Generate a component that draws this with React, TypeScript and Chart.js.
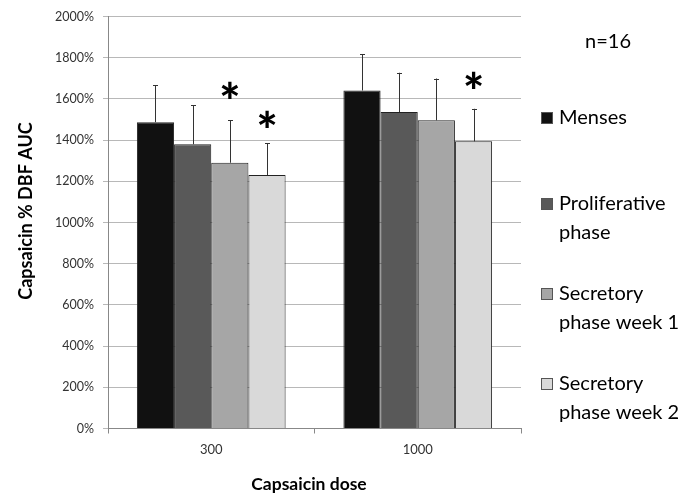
import React, { useEffect, useRef } from "react";
import { Chart, registerables } from "chart.js";

Chart.register(...registerables);

const categories = ["300", "1000"];
const seriesNames = ["Menses", "Proliferative phase", "Secretory phase week 1", "Secretory phase week 2"];
const legendLines = [["Menses"], ["Proliferative", "phase"], ["Secretory", "phase week 1"], ["Secretory", "phase week 2"]];
const menses = [1487, 1641];
const proliferative = [1380, 1536];
const secretory1 = [1290, 1496];
const secretory2 = [1230, 1394];
const mensesErr = [179, 177];
const proliferativeErr = [188, 191];
const secretory1Err = [206, 203];
const secretory2Err = [154, 158];
// asterisk positions (data units) per series, per category
const mensesStar: (number | null)[] = [null, null];
const proliferativeStar: (number | null)[] = [null, null];
const secretory1Star: (number | null)[] = [1642, null];
const secretory2Star: (number | null)[] = [1502, 1690];
const yTicks = [0, 200, 400, 600, 800, 1000, 1200, 1400, 1600, 1800, 2000];
const nLabel = "n=16";
const yTitle = "Capsaicin % DBF AUC";
const xTitle = "Capsaicin dose";

const colors = ["#111111", "#595959", "#a6a6a6", "#d9d9d9"];
const FONT = "Lato, 'Open Sans', sans-serif";

export default function App() {
  const ref = useRef<HTMLCanvasElement | null>(null);
  useEffect(() => {
    document.body.style.margin = "0";
    const values = [menses, proliferative, secretory1, secretory2];
    const errs = [mensesErr, proliferativeErr, secretory1Err, secretory2Err];
    const stars = [mensesStar, proliferativeStar, secretory1Star, secretory2Star];

    const overlay = {
      id: "overlay",
      afterDatasetsDraw(chart: any) {
        const ctx = chart.ctx;
        const ys = chart.scales.y;
        ctx.save();
        values.forEach((_, di) => {
          const meta = chart.getDatasetMeta(di);
          meta.data.forEach((bar: any, i: number) => {
            const top = ys.getPixelForValue(values[di][i] + errs[di][i]);
            const x = Math.round(bar.x) + 0.5;
            ctx.strokeStyle = "#333333";
            ctx.lineWidth = 1;
            ctx.beginPath();
            ctx.moveTo(x, bar.y);
            ctx.lineTo(x, top);
            ctx.moveTo(x - 2.5, Math.round(top) + 0.5);
            ctx.lineTo(x + 2.5, Math.round(top) + 0.5);
            ctx.stroke();
            const s = stars[di][i];
            if (s != null) {
              const sy = ys.getPixelForValue(s);
              ctx.fillStyle = "#000";
              ctx.font = `900 50px ${FONT}`;
              ctx.textAlign = "center";
              ctx.textBaseline = "alphabetic";
              const m = ctx.measureText("*");
              const off = m.actualBoundingBoxAscent - (m.actualBoundingBoxAscent + m.actualBoundingBoxDescent) / 2;
              ctx.fillText("*", bar.x, sy + off);
            }
          });
        });
        ctx.restore();
      },
      afterDraw(chart: any) {
        const ctx = chart.ctx;
        ctx.save();
        ctx.fillStyle = "#000";
        ctx.font = `bold 18px ${FONT}`;
        ctx.textAlign = "center";
        ctx.textBaseline = "middle";
        ctx.translate(26, 211);
        ctx.rotate(-Math.PI / 2);
        ctx.fillText(yTitle, 0, 0);
        ctx.restore();
        ctx.save();
        ctx.fillStyle = "#000";
        ctx.font = `bold 17.5px ${FONT}`;
        ctx.textAlign = "center";
        ctx.textBaseline = "middle";
        ctx.fillText(xTitle, 309, 484);
        ctx.font = `20px ${FONT}`;
        ctx.fillText(nLabel, 608, 42);
        const firstY = [118, 204, 294, 384];
        ctx.textAlign = "left";
        legendLines.forEach((lines, i) => {
          const y = firstY[i];
          ctx.fillStyle = colors[i];
          ctx.fillRect(541, y - 6, 12, 12);
          ctx.strokeStyle = "#555";
          ctx.lineWidth = 1;
          ctx.strokeRect(541.5, y - 5.5, 11, 11);
          ctx.fillStyle = "#000";
          ctx.font = `20px ${FONT}`;
          lines.forEach((t, j) => ctx.fillText(t, 559, y + j * 29));
        });
        ctx.restore();
      },
    };

    const chart = new Chart(ref.current!, {
      type: "bar",
      data: {
        labels: categories,
        datasets: seriesNames.map((name, i) => ({
          label: name,
          data: values[i],
          backgroundColor: colors[i],
          borderColor: "#222222",
          borderWidth: 1,
          categoryPercentage: 0.72,
          barPercentage: 1,
        })),
      },
      options: {
        responsive: false,
        animation: false,
        layout: { padding: { left: 0, right: 165, top: 15, bottom: 0 } },
        plugins: { legend: { display: false }, tooltip: { enabled: false } },
        scales: {
          x: {
            grid: { drawOnChartArea: false, color: "#888888", tickLength: 5, offset: true },
            border: { color: "#888888" },
            ticks: { color: "#333333", font: { family: FONT, size: 13 }, padding: 9 },
            afterFit(scale: any) { scale.height = 67.5; },
          },
          y: {
            min: 0,
            max: 2000,
            afterBuildTicks(scale: any) { scale.ticks = yTicks.map((v) => ({ value: v })); },
            grid: { color: "#b8b8b8", tickLength: 5 },
            border: { color: "#888888" },
            ticks: {
              color: "#333333",
              font: { family: FONT, size: 12.5 },
              padding: 9,
              callback: (v: any) => `${v}%`,
            },
            afterFit(scale: any) { scale.width = 108; },
          },
        },
      },
      plugins: [overlay],
    });
    return () => chart.destroy();
  }, []);
  return <canvas ref={ref} width={686} height={496} style={{ display: "block" }} />;
}
